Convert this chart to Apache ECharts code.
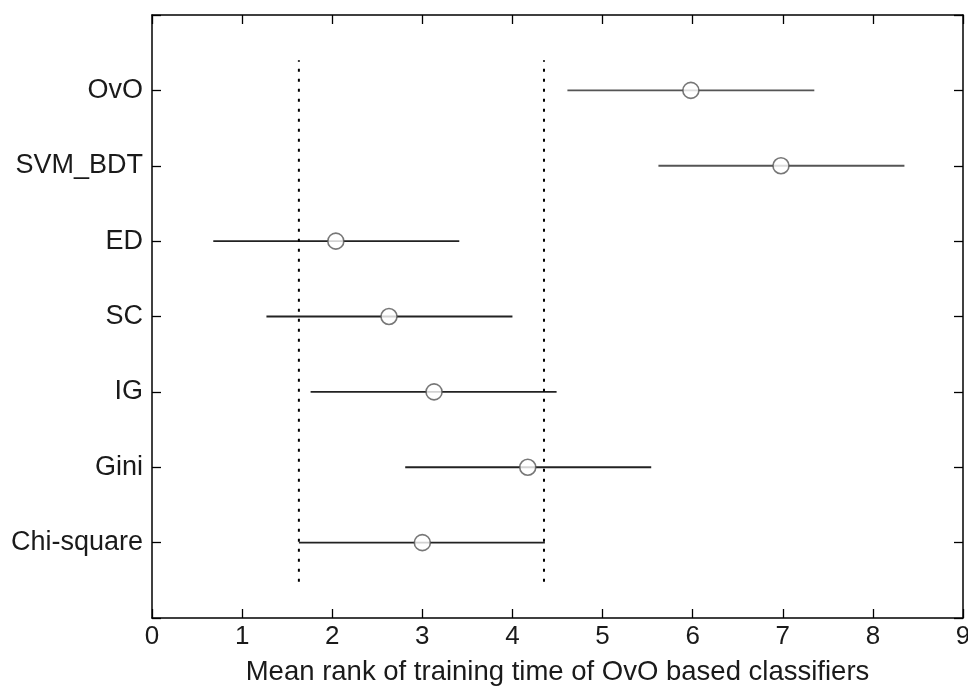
<!DOCTYPE html>
<html><head><meta charset="utf-8">
<script src="https://cdn.jsdelivr.net/npm/echarts@6/dist/echarts.min.js"></script>
<style>html,body{margin:0;padding:0;background:#fff}#c{width:968px;height:691px}</style>
</head><body><div id="c"></div>
<script>
const categories = ['Chi-square','Gini','IG','SC','ED','SVM_BDT','OvO'];
const meanRank = [3.0, 4.17, 3.13, 2.63, 2.04, 6.98, 5.98];
const lowerBound = [1.63, 2.81, 1.76, 1.27, 0.68, 5.62, 4.61];
const upperBound = [4.36, 5.54, 4.49, 4.0, 3.41, 8.35, 7.35];
const barColors = ['#222','#222','#222','#222','#222','#555','#555'];
const criticalLines = [1.63, 4.35];

const font = 'Liberation Sans, Arial, sans-serif';
const chart = echarts.init(document.getElementById('c'));
const yLab = v => (v >= 1 && v <= categories.length && Number.isInteger(v)) ? categories[v-1] : '';
const axisLine = {show:true, onZero:false, lineStyle:{color:'#000', width:1.5}};
const tick = {show:true, inside:true, length:9, lineStyle:{color:'#000', width:1.3}};
const errData = categories.map((c,i)=>[lowerBound[i], upperBound[i], i+1]);
chart.setOption({
  animation:false,
  grid:{left:152, right:5, top:15, bottom:73, containLabel:false, outerBoundsMode:'none'},
  xAxis:[{type:'value', min:0, max:9, interval:1, position:'bottom',
    axisLine, axisTick:tick, splitLine:{show:false},
    axisLabel:{color:'#1a1a1a', fontSize:26, fontFamily:font, margin:6},
    name:'Mean rank of training time of OvO based classifiers', nameLocation:'middle', nameGap:40,
    nameTextStyle:{color:'#1a1a1a', fontSize:27.5, fontFamily:font}},
   {type:'value', min:0, max:9, interval:1, position:'top',
    axisLine, axisTick:tick, splitLine:{show:false}, axisLabel:{show:false}}],
  yAxis:[{type:'value', min:0, max:8, interval:1, position:'left',
    axisLine, axisTick:tick, splitLine:{show:false},
    axisLabel:{color:'#1a1a1a', fontSize:27, fontFamily:font, margin:9, formatter:yLab}},
   {type:'value', min:0, max:8, interval:1, position:'right',
    axisLine, axisTick:tick, splitLine:{show:false}, axisLabel:{show:false}}],
  series:[
    ...criticalLines.map(x=>({type:'line', xAxisIndex:0, yAxisIndex:0, symbol:'none', silent:true,
      data:[[x,0.48],[x,7.4]], lineStyle:{color:'#000', width:2, type:[3,7]}})),
    {type:'custom', xAxisIndex:0, yAxisIndex:0, data:errData,
      renderItem:(params, api)=>{
        const a = api.coord([api.value(0), api.value(2)]);
        const b = api.coord([api.value(1), api.value(2)]);
        return {type:'line', shape:{x1:a[0], y1:a[1], x2:b[0], y2:b[1]},
          style:{stroke:barColors[params.dataIndex], lineWidth:1.8}};
      }},
    {type:'scatter', xAxisIndex:0, yAxisIndex:0, symbol:'circle', symbolSize:16, z:5,
      data:meanRank.map((v,i)=>[v,i+1]),
      itemStyle:{color:'#fff', borderColor:'#555', borderWidth:1.6}}
  ]
});
</script></body></html>
